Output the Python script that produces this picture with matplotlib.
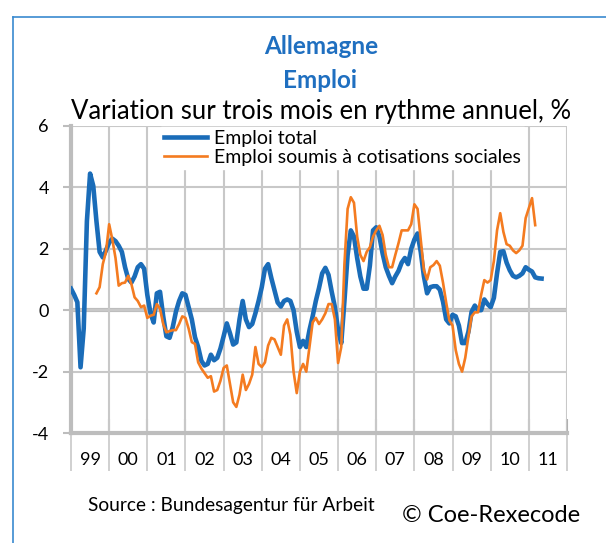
import matplotlib
matplotlib.use('Agg')
from matplotlib import pyplot as plt
from matplotlib.lines import Line2D

plt.rcParams['font.family'] = ['Lato', 'DejaVu Sans']
plt.rcParams['axes.unicode_minus'] = False

# monthly values, Jan 1999 onwards (month index 0)
years = ['99', '00', '01', '02', '03', '04', '05', '06', '07', '08', '09', '10', '11']

emploi_total = [
    0.7, 0.5, 0.26, -1.86, -0.6, 2.9, 4.45, 4.05, 2.9, 1.9, 1.72, 1.95,
    2.2, 2.33, 2.25, 2.1, 1.9, 1.4, 1.02, 0.9, 1.1, 1.4, 1.5, 1.35,
    0.5, -0.1, -0.4, 0.55, 0.6, -0.2, -0.85, -0.9, -0.55, -0.05, 0.3, 0.55,
    0.5, 0.1, -0.3, -0.88, -1.2, -1.65, -1.8, -1.75, -1.45, -1.63, -1.55, -1.25,
    -0.85, -0.43, -0.75, -1.12, -1.05, -0.3, 0.3, -0.3, -0.55, -0.45, -0.1, 0.3,
    0.75, 1.35, 1.5, 1.05, 0.65, 0.25, 0.12, 0.3, 0.35, 0.3, 0.0, -0.7,
    -1.2, -1.0, -1.2, -0.65, -0.2, 0.3, 0.72, 1.2, 1.38, 1.15, 0.6, 0.1,
    -0.65, -1.07, 0.3, 1.8, 2.6, 2.4, 1.7, 1.1, 0.7, 0.7, 1.45, 2.6,
    2.7, 2.4, 1.85, 1.4, 1.12, 0.88, 1.1, 1.28, 1.55, 1.7, 1.5, 2.0,
    2.3, 2.5, 1.9, 1.1, 0.55, 0.75, 0.78, 0.78, 0.67, 0.28, -0.3, -0.43,
    -0.15, -0.2, -0.5, -1.07, -1.07, -0.7, -0.05, 0.15, 0.0, 0.0, 0.35, 0.2,
    0.1, 0.4, 1.2, 1.9, 1.92, 1.55, 1.3, 1.12, 1.07, 1.12, 1.2, 1.4,
    1.32, 1.26, 1.07, 1.04, 1.03,
]

# starts Sep 1999 (month index 8)
cotis_start = 8
emploi_cotis = [
    0.55, 0.75, 1.5, 1.9,
    2.8, 2.3, 1.7, 0.8, 0.88, 0.9, 1.12, 0.85, 0.42, 0.3, 0.1, 0.15,
    -0.25, -0.18, -0.15, 0.2, 0.05, -0.45, -0.72, -0.68, -0.65, -0.65, -0.45, -0.2,
    -0.25, -0.6, -1.04, -1.1, -1.7, -1.9, -2.05, -2.2, -2.15, -2.65, -2.6, -2.3,
    -1.88, -1.8, -2.4, -3.0, -3.15, -2.75, -2.1, -2.6, -2.4, -2.1, -1.2, -1.75,
    -1.85, -1.7, -1.15, -0.9, -0.95, -1.2, -1.45, -0.5, -0.3, -0.8, -2.0, -2.7,
    -2.0, -1.75, -2.0, -1.2, -0.4, -0.25, -0.45, -0.3, -0.1, 0.2, 0.2, -0.3,
    -1.72, -1.2, 1.5, 3.3, 3.68, 3.5, 2.4, 1.8, 1.6, 1.9, 2.05, 2.4,
    2.6, 2.75, 2.45, 1.8, 1.4, 1.4, 1.8, 2.18, 2.6, 2.6, 2.6, 2.8,
    3.45, 3.3, 2.3, 1.3, 1.0, 1.4, 1.47, 1.6, 1.45, 0.9, 0.25, -0.33,
    -0.5, -1.3, -1.75, -2.0, -1.55, -0.85, -0.2, -0.07, -0.07, 0.5, 0.98, 0.9,
    0.98, 1.6, 2.6, 3.16, 2.55, 2.15, 2.1, 1.95, 1.86, 1.95, 2.1, 3.0,
    3.32, 3.65, 2.77,
]

blue = '#1a6cb8'
orange = '#f47b20'
grid_col = '#c8c8c8'
axis_col = '#bdbdbd'

fig = plt.figure(figsize=(6.06, 5.43), dpi=100)
ax = fig.add_axes([71/606, 1 - 433/543, 496/606, 307/543])

x_total = list(range(len(emploi_total)))
x_cotis = list(range(cotis_start, cotis_start + len(emploi_cotis)))

ax.plot(x_total, emploi_total, color=blue, lw=3.3, label='Emploi total', zorder=4)
ax.plot(x_cotis, emploi_cotis, color=orange, lw=1.9, label='Emploi soumis à cotisations sociales', zorder=5)

ax.set_xlim(0, 12*len(years))
ax.set_ylim(-4, 6)

# year boundaries as major ticks (long, going below the axis), labels on minor ticks
year_edges = [12*i for i in range(len(years) + 1)]
ax.set_xticks(year_edges)
ax.set_xticklabels([])
ax.set_xticks([12*i + 6 for i in range(len(years))], minor=True)
ax.set_xticklabels(years, minor=True)
ax.tick_params(axis='x', which='major', length=27, width=1.2, color=grid_col)
ax.tick_params(axis='x', which='minor', length=0, pad=14, labelsize=13)

# short darker inner tick marks on the category axis
sec = ax.secondary_xaxis('bottom')
sec.set_xticks(year_edges)
sec.tick_params(axis='x', direction='in', length=10, width=1.5, color='#b0b0b0', labelbottom=False)
sec.spines['bottom'].set_visible(False)

ax.set_yticks([-4, -2, 0, 2, 4, 6])
ax.tick_params(axis='y', length=6, width=1.5, color=axis_col, pad=10, labelsize=13)

ax.grid(True, color=grid_col, lw=1.5, zorder=0)
ax.axhline(0, color=axis_col, lw=3, zorder=1)

for side in ['top', 'right']:
    ax.spines[side].set_visible(False)
for side in ['left', 'bottom']:
    ax.spines[side].set_color(axis_col)
    ax.spines[side].set_linewidth(3)

leg = ax.legend(loc='upper left', bbox_to_anchor=(0.18, 1.0), fontsize=14,
                frameon=True, fancybox=False, handlelength=2.2, borderpad=0.15,
                labelspacing=0.1, handletextpad=0.35, borderaxespad=0.05)
leg.get_frame().set_edgecolor('white')
leg.get_frame().set_alpha(1)
leg.set_zorder(10)

# titles
title_blue = '#1f6fc0'
fig.text(321/606, 1 - 47/543, 'Allemagne', ha='center', va='center', fontsize=17.5, fontweight='bold', color=title_blue)
fig.text(320/606, 1 - 80/543, 'Emploi', ha='center', va='center', fontsize=17.5, fontweight='bold', color=title_blue)
fig.text(321/606, 1 - 112/543, 'Variation sur trois mois en rythme annuel, %', ha='center', va='center', fontsize=18.5)

fig.text(88/606, 1 - 506/543, 'Source : Bundesagentur für Arbeit', ha='left', va='center', fontsize=13.8)
fig.text(402/606, 1 - 516/543, '© Coe-Rexecode', ha='left', va='center', fontsize=17)

# blue frame top/left
fig.add_artist(Line2D([13/606, 13/606], [0, 1 - 17/543], color='#3a8ad0', lw=1.2, transform=fig.transFigure))
fig.add_artist(Line2D([13/606, 1], [1 - 17/543, 1 - 17/543], color='#3a8ad0', lw=1.2, transform=fig.transFigure))

fig.savefig('out.png', dpi=100)
